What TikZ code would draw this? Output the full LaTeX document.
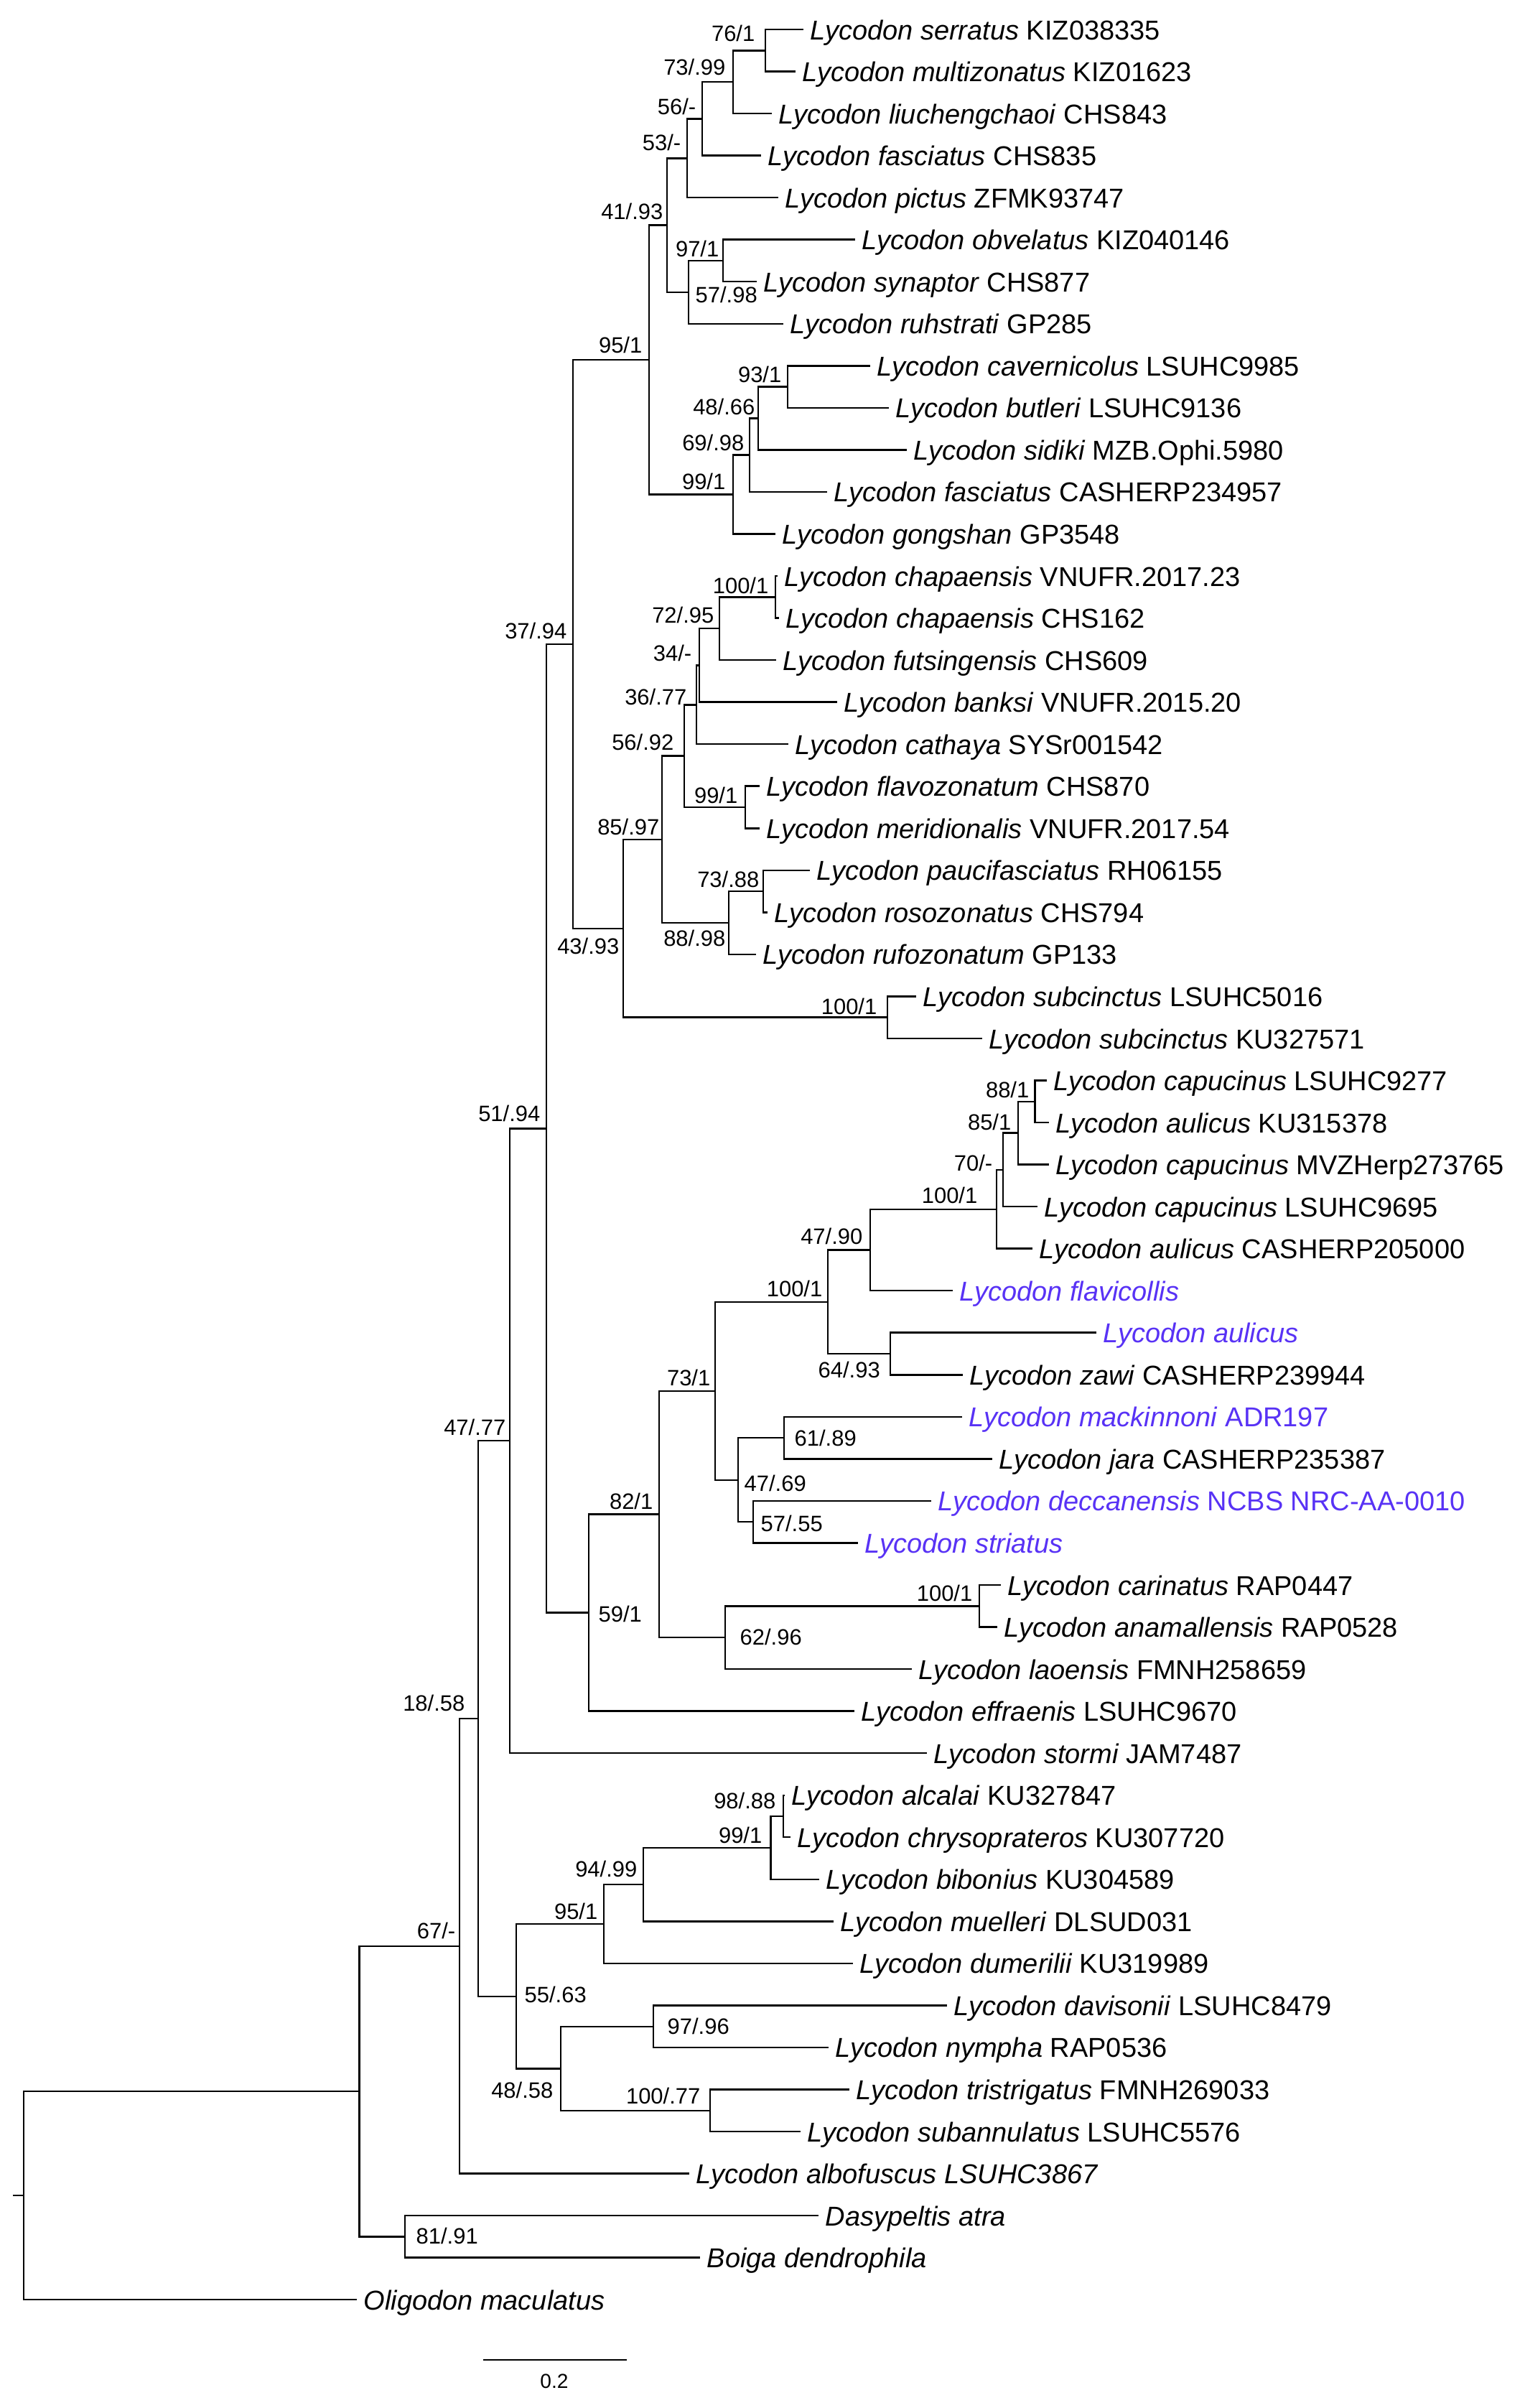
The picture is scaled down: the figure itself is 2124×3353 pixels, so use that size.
\documentclass[tikz,border=0pt]{standalone}
\usepackage{fontspec}
\setmainfont{Liberation Sans}
\usepackage{xcolor}
\usetikzlibrary{positioning}
\definecolor{querytip}{RGB}{88,50,245}
\newcommand{\sname}[1]{\textit{#1}}
\tikzset{
    branch/.style={line width=0.7pt},
    tip/.style={anchor=west, inner xsep=0.09cm, inner ysep=0pt, text height=0.28cm, text depth=0pt, font=\fontsize{10.8}{13}\selectfont},
    query/.style={text=querytip},
    support/.style={inner sep=0pt, font=\fontsize{8.8}{10}\selectfont},
    lsup/.style={support, anchor=base east},
    rsup/.style={support, anchor=base west},
    scalelab/.style={inner sep=0pt, anchor=base, font=\fontsize{8}{9}\selectfont}
}

\begin{document}
\begin{tikzpicture}[x=0.01cm, y=-0.01cm]
    \useasboundingbox (0,0) rectangle (2124,3353);

    % tips
    \node[tip] (serratus) at (1119,41.0) {\sname{Lycodon serratus} KIZ038335};
    \node[tip] (multizonatus) at (1108,99.5) {\sname{Lycodon multizonatus} KIZ01623};
    \node[tip] (liuchengchaoi) at (1075,158.1) {\sname{Lycodon liuchengchaoi} CHS843};
    \node[tip] (fasciatusA) at (1060,216.6) {\sname{Lycodon fasciatus} CHS835};
    \node[tip] (pictus) at (1084,275.2) {\sname{Lycodon pictus} ZFMK93747};
    \node[tip] (obvelatus) at (1191,333.7) {\sname{Lycodon obvelatus} KIZ040146};
    \node[tip] (synaptor) at (1054,392.2) {\sname{Lycodon synaptor} CHS877};
    \node[tip] (ruhstrati) at (1091,450.8) {\sname{Lycodon ruhstrati} GP285};
    \node[tip] (cavernicolus) at (1212,509.3) {\sname{Lycodon cavernicolus} LSUHC9985};
    \node[tip] (butleri) at (1238,567.9) {\sname{Lycodon butleri} LSUHC9136};
    \node[tip] (sidiki) at (1263,626.4) {\sname{Lycodon sidiki} MZB.Ophi.5980};
    \node[tip] (fasciatusB) at (1152,684.9) {\sname{Lycodon fasciatus} CASHERP234957};
    \node[tip] (gongshan) at (1080,743.5) {\sname{Lycodon gongshan} GP3548};
    \node[tip] (chapaensisA) at (1083,802.0) {\sname{Lycodon chapaensis} VNUFR.2017.23};
    \node[tip] (chapaensisB) at (1085,860.6) {\sname{Lycodon chapaensis} CHS162};
    \node[tip] (futsingensis) at (1081,919.1) {\sname{Lycodon futsingensis} CHS609};
    \node[tip] (banksi) at (1166,977.6) {\sname{Lycodon banksi} VNUFR.2015.20};
    \node[tip] (cathaya) at (1098,1036.2) {\sname{Lycodon cathaya} SYSr001542};
    \node[tip] (flavozonatum) at (1058,1094.7) {\sname{Lycodon flavozonatum} CHS870};
    \node[tip] (meridionalis) at (1058,1153.3) {\sname{Lycodon meridionalis} VNUFR.2017.54};
    \node[tip] (paucifasciatus) at (1128,1211.8) {\sname{Lycodon paucifasciatus} RH06155};
    \node[tip] (rosozonatus) at (1069,1270.3) {\sname{Lycodon rosozonatus} CHS794};
    \node[tip] (rufozonatum) at (1053,1328.9) {\sname{Lycodon rufozonatum} GP133};
    \node[tip] (subcinctusA) at (1276,1387.4) {\sname{Lycodon subcinctus} LSUHC5016};
    \node[tip] (subcinctusB) at (1368,1446.0) {\sname{Lycodon subcinctus} KU327571};
    \node[tip] (capucinusA) at (1458,1504.5) {\sname{Lycodon capucinus} LSUHC9277};
    \node[tip] (aulicusA) at (1461,1563.0) {\sname{Lycodon aulicus} KU315378};
    \node[tip] (capucinusB) at (1461,1621.6) {\sname{Lycodon capucinus} MVZHerp273765};
    \node[tip] (capucinusC) at (1445,1680.1) {\sname{Lycodon capucinus} LSUHC9695};
    \node[tip] (aulicusB) at (1438,1738.7) {\sname{Lycodon aulicus} CASHERP205000};
    \node[tip, query] (flavicollis) at (1327,1797.2) {\sname{Lycodon flavicollis}};
    \node[tip, query] (aulicusQ) at (1527,1855.7) {\sname{Lycodon aulicus}};
    \node[tip] (zawi) at (1341,1914.3) {\sname{Lycodon zawi} CASHERP239944};
    \node[tip, query] (mackinnoni) at (1340,1972.8) {\sname{Lycodon mackinnoni} ADR197};
    \node[tip] (jara) at (1382,2031.4) {\sname{Lycodon jara} CASHERP235387};
    \node[tip, query] (deccanensis) at (1297,2089.9) {\sname{Lycodon deccanensis} NCBS NRC-AA-0010};
    \node[tip, query] (striatus) at (1195,2148.4) {\sname{Lycodon striatus}};
    \node[tip] (carinatus) at (1394,2207.0) {\sname{Lycodon carinatus} RAP0447};
    \node[tip] (anamallensis) at (1389,2265.5) {\sname{Lycodon anamallensis} RAP0528};
    \node[tip] (laoensis) at (1270,2324.1) {\sname{Lycodon laoensis} FMNH258659};
    \node[tip] (effraenis) at (1190,2382.6) {\sname{Lycodon effraenis} LSUHC9670};
    \node[tip] (stormi) at (1291,2441.1) {\sname{Lycodon stormi} JAM7487};
    \node[tip] (alcalai) at (1093,2499.7) {\sname{Lycodon alcalai} KU327847};
    \node[tip] (chrysoprateros) at (1101,2558.2) {\sname{Lycodon chrysoprateros} KU307720};
    \node[tip] (bibonius) at (1141,2616.8) {\sname{Lycodon bibonius} KU304589};
    \node[tip] (muelleri) at (1161,2675.3) {\sname{Lycodon muelleri} DLSUD031};
    \node[tip] (dumerilii) at (1188,2733.8) {\sname{Lycodon dumerilii} KU319989};
    \node[tip] (davisonii) at (1319,2792.4) {\sname{Lycodon davisonii} LSUHC8479};
    \node[tip] (nympha) at (1154,2850.9) {\sname{Lycodon nympha} RAP0536};
    \node[tip] (tristrigatus) at (1183,2909.5) {\sname{Lycodon tristrigatus} FMNH269033};
    \node[tip] (subannulatus) at (1115,2968.0) {\sname{Lycodon subannulatus} LSUHC5576};
    \node[tip] (albofuscus) at (960,3026.5) {\sname{Lycodon albofuscus LSUHC3867}};
    \node[tip] (dasypeltis) at (1140,3085.1) {\sname{Dasypeltis atra}};
    \node[tip] (boiga) at (975,3143.6) {\sname{Boiga dendrophila}};
    \node[tip] (oligodon) at (497,3202.2) {\sname{Oligodon maculatus}};

    % internal nodes
    \coordinate (n76) at (1066,70.3);
    \coordinate (n73) at (1021,114.2);
    \coordinate (n56) at (978,165.4);
    \coordinate (n53) at (957,220.3);
    \coordinate (n97) at (1007,363.0);
    \coordinate (n57) at (959,406.9);
    \coordinate (n41) at (929,313.6);
    \coordinate (n93) at (1097,538.6);
    \coordinate (n48) at (1056,582.5);
    \coordinate (n69) at (1044,633.7);
    \coordinate (n99a) at (1021,688.6);
    \coordinate (n95) at (904,501.1);
    \coordinate (n100a) at (1080,831.3);
    \coordinate (n72) at (1002,875.2);
    \coordinate (n34) at (974,926.4);
    \coordinate (n36) at (970,981.3);
    \coordinate (n99b) at (1038,1124.0);
    \coordinate (n56b) at (953,1052.7);
    \coordinate (n73b) at (1063,1241.1);
    \coordinate (n88) at (1015,1285.0);
    \coordinate (n85) at (922,1168.9);
    \coordinate (n100b) at (1236,1416.7);
    \coordinate (n43) at (868,1292.8);
    \coordinate (n37) at (798,897.0);
    \coordinate (n88c) at (1441.5,1533.8);
    \coordinate (n85c) at (1418,1577.7);
    \coordinate (n70) at (1397,1628.9);
    \coordinate (n100c) at (1388,1683.8);
    \coordinate (n47b) at (1212,1740.5);
    \coordinate (n64) at (1240,1885.0);
    \coordinate (n100d) at (1153,1812.8);
    \coordinate (n61) at (1092,2002.1);
    \coordinate (n57b) at (1049,2119.2);
    \coordinate (n47c) at (1028,2060.7);
    \coordinate (n73c) at (996,1936.8);
    \coordinate (n100e) at (1364,2236.3);
    \coordinate (n62) at (1010,2280.2);
    \coordinate (n82) at (918,2108.5);
    \coordinate (n59) at (820,2245.6);
    \coordinate (n51) at (761,1571.3);
    \coordinate (n47a) at (710,2006.2);
    \coordinate (n98) at (1091,2529.0);
    \coordinate (n99c) at (1073.5,2572.9);
    \coordinate (n94) at (896,2624.1);
    \coordinate (n95b) at (841,2679.0);
    \coordinate (n97b) at (910,2821.7);
    \coordinate (n100f) at (989,2938.8);
    \coordinate (n48b) at (781,2880.3);
    \coordinate (n55) at (719,2779.7);
    \coordinate (n18) at (666,2393.0);
    \coordinate (n67) at (640,2709.8);
    \coordinate (n81) at (564,3114.4);
    \coordinate (nout) at (500.6,2912.1);
    \coordinate (root) at (33,3057.2);
    \coordinate (rootstub) at (18,3057.2);

    % branches
    \draw[branch] (n76) |- (serratus);
    \draw[branch] (n76) |- (multizonatus);
    \draw[branch] (n73) |- (n76);
    \draw[branch] (n73) |- (liuchengchaoi);
    \draw[branch] (n56) |- (n73);
    \draw[branch] (n56) |- (fasciatusA);
    \draw[branch] (n53) |- (n56);
    \draw[branch] (n53) |- (pictus);
    \draw[branch] (n97) |- (obvelatus);
    \draw[branch] (n97) |- (synaptor);
    \draw[branch] (n57) |- (n97);
    \draw[branch] (n57) |- (ruhstrati);
    \draw[branch] (n41) |- (n53);
    \draw[branch] (n41) |- (n57);
    \draw[branch] (n93) |- (cavernicolus);
    \draw[branch] (n93) |- (butleri);
    \draw[branch] (n48) |- (n93);
    \draw[branch] (n48) |- (sidiki);
    \draw[branch] (n69) |- (n48);
    \draw[branch] (n69) |- (fasciatusB);
    \draw[branch] (n99a) |- (n69);
    \draw[branch] (n99a) |- (gongshan);
    \draw[branch] (n95) |- (n41);
    \draw[branch] (n95) |- (n99a);
    \draw[branch] (n100a) |- (chapaensisA);
    \draw[branch] (n100a) |- (chapaensisB);
    \draw[branch] (n72) |- (n100a);
    \draw[branch] (n72) |- (futsingensis);
    \draw[branch] (n34) |- (n72);
    \draw[branch] (n34) |- (banksi);
    \draw[branch] (n36) |- (n34);
    \draw[branch] (n36) |- (cathaya);
    \draw[branch] (n99b) |- (flavozonatum);
    \draw[branch] (n99b) |- (meridionalis);
    \draw[branch] (n56b) |- (n36);
    \draw[branch] (n56b) |- (n99b);
    \draw[branch] (n73b) |- (paucifasciatus);
    \draw[branch] (n73b) |- (rosozonatus);
    \draw[branch] (n88) |- (n73b);
    \draw[branch] (n88) |- (rufozonatum);
    \draw[branch] (n85) |- (n56b);
    \draw[branch] (n85) |- (n88);
    \draw[branch] (n100b) |- (subcinctusA);
    \draw[branch] (n100b) |- (subcinctusB);
    \draw[branch] (n43) |- (n85);
    \draw[branch] (n43) |- (n100b);
    \draw[branch] (n37) |- (n95);
    \draw[branch] (n37) |- (n43);
    \draw[branch] (n88c) |- (capucinusA);
    \draw[branch] (n88c) |- (aulicusA);
    \draw[branch] (n85c) |- (n88c);
    \draw[branch] (n85c) |- (capucinusB);
    \draw[branch] (n70) |- (n85c);
    \draw[branch] (n70) |- (capucinusC);
    \draw[branch] (n100c) |- (n70);
    \draw[branch] (n100c) |- (aulicusB);
    \draw[branch] (n47b) |- (n100c);
    \draw[branch] (n47b) |- (flavicollis);
    \draw[branch] (n64) |- (aulicusQ);
    \draw[branch] (n64) |- (zawi);
    \draw[branch] (n100d) |- (n47b);
    \draw[branch] (n100d) |- (n64);
    \draw[branch] (n61) |- (mackinnoni);
    \draw[branch] (n61) |- (jara);
    \draw[branch] (n57b) |- (deccanensis);
    \draw[branch] (n57b) |- (striatus);
    \draw[branch] (n47c) |- (n61);
    \draw[branch] (n47c) |- (n57b);
    \draw[branch] (n73c) |- (n100d);
    \draw[branch] (n73c) |- (n47c);
    \draw[branch] (n100e) |- (carinatus);
    \draw[branch] (n100e) |- (anamallensis);
    \draw[branch] (n62) |- (n100e);
    \draw[branch] (n62) |- (laoensis);
    \draw[branch] (n82) |- (n73c);
    \draw[branch] (n82) |- (n62);
    \draw[branch] (n59) |- (n82);
    \draw[branch] (n59) |- (effraenis);
    \draw[branch] (n51) |- (n37);
    \draw[branch] (n51) |- (n59);
    \draw[branch] (n47a) |- (n51);
    \draw[branch] (n47a) |- (stormi);
    \draw[branch] (n98) |- (alcalai);
    \draw[branch] (n98) |- (chrysoprateros);
    \draw[branch] (n99c) |- (n98);
    \draw[branch] (n99c) |- (bibonius);
    \draw[branch] (n94) |- (n99c);
    \draw[branch] (n94) |- (muelleri);
    \draw[branch] (n95b) |- (n94);
    \draw[branch] (n95b) |- (dumerilii);
    \draw[branch] (n97b) |- (davisonii);
    \draw[branch] (n97b) |- (nympha);
    \draw[branch] (n100f) |- (tristrigatus);
    \draw[branch] (n100f) |- (subannulatus);
    \draw[branch] (n48b) |- (n97b);
    \draw[branch] (n48b) |- (n100f);
    \draw[branch] (n55) |- (n95b);
    \draw[branch] (n55) |- (n48b);
    \draw[branch] (n18) |- (n47a);
    \draw[branch] (n18) |- (n55);
    \draw[branch] (n67) |- (n18);
    \draw[branch] (n67) |- (albofuscus);
    \draw[branch] (n81) |- (dasypeltis);
    \draw[branch] (n81) |- (boiga);
    \draw[branch] (nout) |- (n67);
    \draw[branch] (nout) |- (n81);
    \draw[branch] (root) |- (nout);
    \draw[branch] (root) |- (oligodon);
    \draw[branch] (rootstub) -- (root);

    % support values
    \node[lsup] (l76) at (1052,57) {76/1};
    \node[lsup] (l73) at (1011,104) {73/.99};
    \node[lsup] (l56) at (970,159) {56/-};
    \node[lsup] (l53) at (949,209) {53/-};
    \node[lsup] (l41) at (924,305) {41/.93};
    \node[lsup] (l97) at (1002,357) {97/1};
    \node[rsup] (l57) at (968,421) {57/.98};
    \node[lsup] (l95) at (895,491) {95/1};
    \node[lsup] (l93) at (1089,532) {93/1};
    \node[lsup] (l48) at (1052,577) {48/.66};
    \node[lsup] (l69) at (1037,627) {69/.98};
    \node[lsup] (l99a) at (1011,681) {99/1};
    \node[lsup] (l100a) at (1071,826) {100/1};
    \node[lsup] (l72) at (995,867) {72/.95};
    \node[lsup] (l37) at (790,889) {37/.94};
    \node[lsup] (l34) at (964,920) {34/-};
    \node[lsup] (l36) at (957,981) {36/.77};
    \node[lsup] (l56b) at (939,1044) {56/.92};
    \node[lsup] (l99b) at (1028,1118) {99/1};
    \node[lsup] (l85) at (919,1162) {85/.97};
    \node[lsup] (l73b) at (1058,1235) {73/.88};
    \node[lsup] (l88) at (1011,1317) {88/.98};
    \node[lsup] (l43) at (863,1328) {43/.93};
    \node[lsup] (l100b) at (1222,1412) {100/1};
    \node[lsup] (l88c) at (1434,1528) {88/1};
    \node[lsup] (l51) at (753,1561) {51/.94};
    \node[lsup] (l85c) at (1409,1573) {85/1};
    \node[lsup] (l70) at (1383,1630) {70/-};
    \node[lsup] (l100c) at (1362,1675) {100/1};
    \node[lsup] (l47b) at (1202,1732) {47/.90};
    \node[lsup] (l100d) at (1146,1805) {100/1};
    \node[rsup] (l64) at (1139,1918) {64/.93};
    \node[lsup] (l73c) at (990,1929) {73/1};
    \node[lsup] (l47a) at (705,1998) {47/.77};
    \node[rsup] (l61) at (1106,2013) {61/.89};
    \node[rsup] (l47c) at (1036,2076) {47/.69};
    \node[lsup] (l82) at (910,2101) {82/1};
    \node[rsup] (l57b) at (1059,2132) {57/.55};
    \node[lsup] (l100e) at (1355,2229) {100/1};
    \node[rsup] (l59) at (833,2258) {59/1};
    \node[rsup] (l62) at (1030,2290) {62/.96};
    \node[lsup] (l18) at (648,2382) {18/.58};
    \node[lsup] (l98) at (1081,2518) {98/.88};
    \node[lsup] (l99c) at (1062,2566) {99/1};
    \node[lsup] (l94) at (888,2613) {94/.99};
    \node[lsup] (l95b) at (833,2672) {95/1};
    \node[lsup] (l67) at (635,2699) {67/-};
    \node[rsup] (l55) at (730,2788) {55/.63};
    \node[rsup] (l97b) at (929,2832) {97/.96};
    \node[lsup] (l48b) at (771,2921) {48/.58};
    \node[lsup] (l100f) at (976,2929) {100/.77};
    \node[rsup] (l81) at (579,3124) {81/.91};

    % scale bar
    \coordinate (sbL) at (673,3286);
    \coordinate (sbR) at (872.5,3286);
    \draw[branch] (sbL) -- (sbR);
    \node[scalelab] (sbtext) at (772,3325) {0.2};
\end{tikzpicture}
\end{document}
